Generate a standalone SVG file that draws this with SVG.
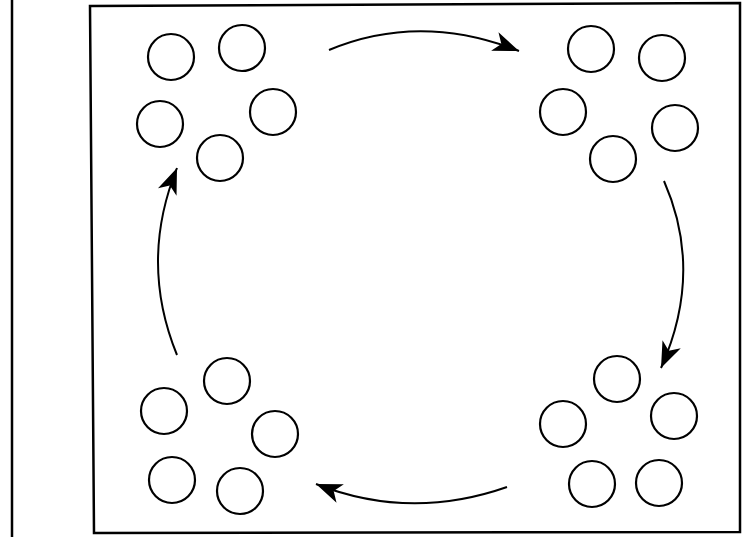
<svg xmlns="http://www.w3.org/2000/svg" width="742" height="537" viewBox="0 0 742 537">
<style>
.c{fill:none;stroke:#000;stroke-width:2.2}
.a{fill:none;stroke:#000;stroke-width:2}
.f{fill:none;stroke:#000;stroke-width:2.5}
</style>
<defs>
<marker id="ah" viewBox="0 -11 28 22" refX="26" refY="0" markerWidth="28" markerHeight="22" markerUnits="userSpaceOnUse" orient="auto">
<path d="M0,-10 L26,0 L0,10 L7,0 Z" fill="#000"/>
</marker>
</defs>
<rect width="742" height="537" fill="#fff"/>
<g id="frame">
<line class="f" x1="12" y1="0" x2="12" y2="537"/>
<path class="f" d="M90,6 L740,3 L740,532 L94,533 Z"/>
</g>
<g id="cluster-tl">
<circle class="c" cx="171" cy="57" r="23"/>
<circle class="c" cx="242" cy="48" r="23"/>
<circle class="c" cx="160" cy="124" r="23"/>
<circle class="c" cx="273" cy="112" r="23"/>
<circle class="c" cx="220" cy="158" r="23"/>
</g>
<g id="cluster-tr">
<circle class="c" cx="591" cy="49" r="23"/>
<circle class="c" cx="662" cy="58" r="23"/>
<circle class="c" cx="563" cy="112" r="23"/>
<circle class="c" cx="675" cy="128" r="23"/>
<circle class="c" cx="613" cy="159" r="23"/>
</g>
<g id="cluster-br">
<circle class="c" cx="617" cy="379" r="23"/>
<circle class="c" cx="563" cy="424" r="23"/>
<circle class="c" cx="674" cy="416" r="23"/>
<circle class="c" cx="592" cy="484" r="23"/>
<circle class="c" cx="659" cy="483" r="23"/>
</g>
<g id="cluster-bl">
<circle class="c" cx="164" cy="411" r="23"/>
<circle class="c" cx="227" cy="381" r="23"/>
<circle class="c" cx="275" cy="434" r="23"/>
<circle class="c" cx="172" cy="480" r="23"/>
<circle class="c" cx="240" cy="491" r="23"/>
</g>
<g id="connectors">
<path class="a" d="M329,50 Q420,12 519,51" marker-end="url(#ah)"/>
<path class="a" d="M664,181 Q704,272 661,368" marker-end="url(#ah)"/>
<path class="a" d="M507,487 Q410,521 316,484" marker-end="url(#ah)"/>
<path class="a" d="M177,355 Q139,262 177,168" marker-end="url(#ah)"/>
</g>
</svg>
